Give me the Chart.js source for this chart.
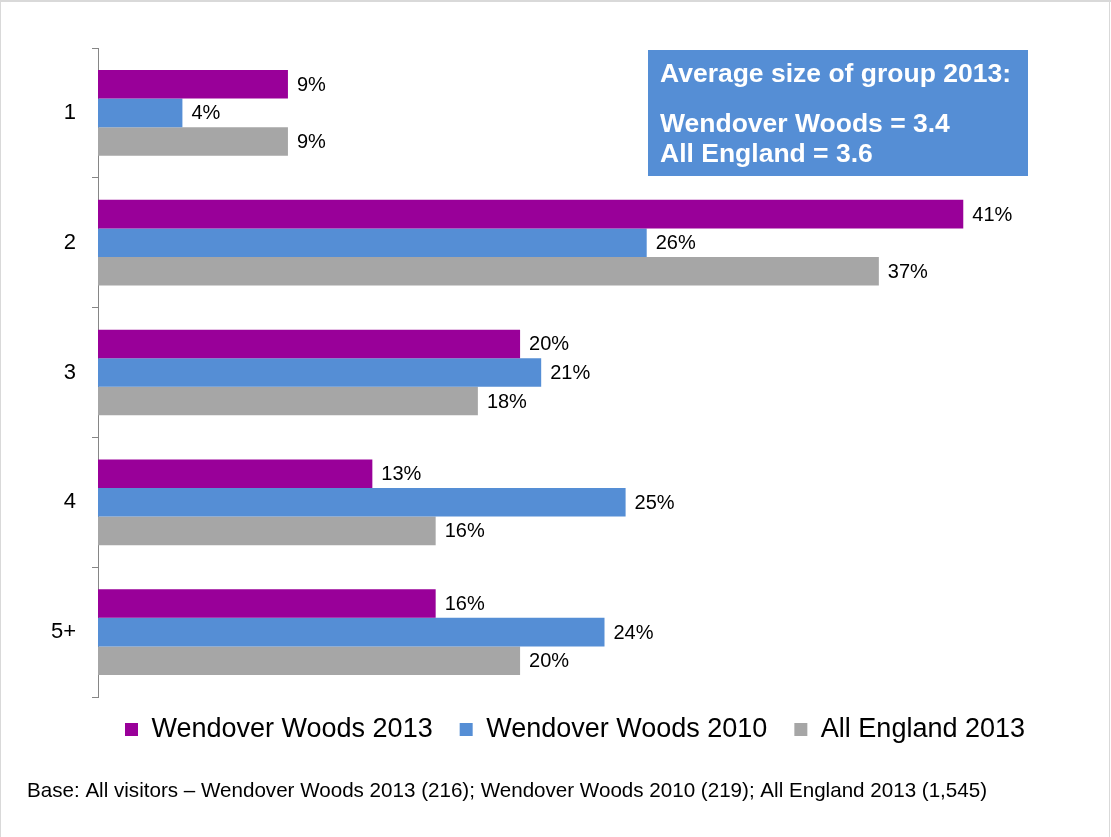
<!DOCTYPE html>
<html>
<head>
<meta charset="utf-8">
<title>Group size</title>
<script src="https://cdn.jsdelivr.net/npm/chart.js@4.4.1/dist/chart.umd.min.js"></script>
<style>
  html, body { margin: 0; padding: 0; background: #fff; }
  #wrap { position: relative; width: 1111px; height: 837px; }
</style>
</head>
<body>
<div id="wrap"><canvas id="groupChart" width="1111" height="837"></canvas></div>
<script>
const groupSizes = ['1', '2', '3', '4', '5+'];
const wendover2013 = [9, 41, 20, 13, 16];
const wendover2010 = [4, 26, 21, 25, 24];
const england2013 = [9, 37, 18, 16, 20];
const seriesNames = ['Wendover Woods 2013', 'Wendover Woods 2010', 'All England 2013'];
const seriesColours = ['#990099', '#558ED5', '#A6A6A6'];
const boxLines = ['Average size of group 2013:', 'Wendover Woods = 3.4', 'All England = 3.6'];
const footNote = 'Base: All visitors \u2013 Wendover Woods 2013 (216); Wendover Woods 2010 (219); All England 2013 (1,545)';

const FONT = 'Arial, "Liberation Sans", sans-serif';

// percentage labels just past the end of each bar
const barLabels = {
    id: 'barLabels',
    afterDatasetsDraw(chart) {
        const ctx = chart.ctx;
        ctx.save();
        ctx.font = '20px ' + FONT;
        ctx.fillStyle = '#000';
        ctx.textBaseline = 'middle';
        ctx.textAlign = 'left';
        chart.data.datasets.forEach((ds, i) => {
            chart.getDatasetMeta(i).data.forEach((bar, j) => {
                ctx.fillText(ds.data[j] + '%', bar.x + 9, bar.y + 1);
            });
        });
        ctx.restore();
    }
};

// pull the legend up closer to the bars
const legendShift = {
    id: 'legendShift',
    afterLayout(chart) {
        chart.legend.top -= 8;
        chart.legend.bottom -= 8;
        chart.legend.left += 2;
        chart.legend.right += 2;
    }
};

// info box, footnote and frame
const extras = {
    id: 'extras',
    afterDraw(chart) {
        const ctx = chart.ctx;
        ctx.save();
        ctx.fillStyle = '#558ED5';
        ctx.fillRect(648, 50, 380, 126);
        ctx.fillStyle = '#fff';
        ctx.font = 'bold 26.5px ' + FONT;
        ctx.textBaseline = 'middle';
        ctx.fillText(boxLines[0], 660, 75);
        ctx.fillText(boxLines[1], 660, 125);
        ctx.fillText(boxLines[2], 660, 155);

        ctx.fillStyle = '#000';
        ctx.font = '20.6px ' + FONT;
        ctx.fillText(footNote, 27, 791);

        ctx.fillStyle = '#d9d9d9';
        ctx.fillRect(0, 0, 1111, 2);
        ctx.fillRect(0, 0, 1, 837);
        ctx.fillRect(1109, 0, 1, 837);
        ctx.restore();
    }
};

new Chart(document.getElementById('groupChart'), {
    type: 'bar',
    data: {
        labels: groupSizes,
        datasets: [wendover2013, wendover2010, england2013].map((vals, i) => ({
            label: seriesNames[i],
            data: vals,
            backgroundColor: seriesColours[i],
            categoryPercentage: 0.66,
            barPercentage: 1.0
        }))
    },
    options: {
        indexAxis: 'y',
        responsive: false,
        animation: false,
        layout: { padding: { top: 48, right: 0, bottom: 76, left: 35 } },
        scales: {
            x: {
                display: false,
                min: 0,
                max: 48
            },
            y: {
                afterFit(scale) { scale.width = 63; },
                grid: {
                    drawOnChartArea: false,
                    drawTicks: true,
                    tickLength: 6,
                    color: '#868686',
                    offset: true
                },
                border: { display: true, color: '#868686', width: 1 },
                ticks: {
                    color: '#000',
                    padding: 16,
                    font: { family: FONT, size: 22 }
                }
            }
        },
        plugins: {
            legend: {
                position: 'bottom',
                labels: {
                    color: '#000',
                    boxWidth: 13,
                    boxHeight: 13,
                    padding: 27,
                    font: { family: FONT, size: 27 }
                }
            },
            tooltip: { enabled: false }
        }
    },
    plugins: [barLabels, legendShift, extras]
});
</script>
</body>
</html>
